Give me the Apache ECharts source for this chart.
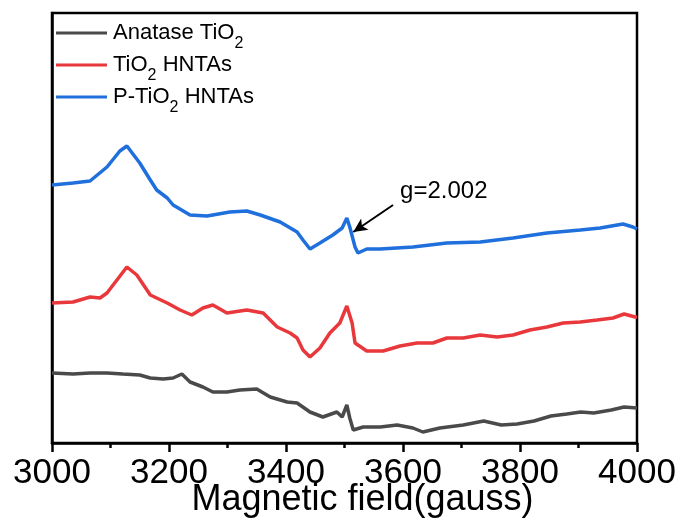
<!DOCTYPE html>
<html>
<head>
<meta charset="utf-8">
<script src="https://cdn.jsdelivr.net/npm/echarts@6/dist/echarts.min.js"></script>
<style>html,body{margin:0;padding:0;background:#fff;}#c{width:684px;height:527px;}</style>
</head>
<body>
<div id="c"></div>
<script>
// Magnetic field (gauss) and EPR intensity (a.u.)
const anataseField = [3000,3036,3065,3094,3121,3150,3168,3190,3207,3222,3236,3258,3275,3299,3321,3350,3373,3402,3419,3441,3463,3487,3496,3504,3509,3515,3532,3561,3590,3617,3634,3663,3703,3738,3768,3795,3824,3853,3880,3904,3926,3956,3978,4000];
const anataseValue = [70,69,70,70,69,68,65,64,65,69,61,56,51,51,53,54,46,41,40,31,26,31,26,38,25,13,16,16,18,15,11,15,18,22,18,19,22,27,29,31,30,33,36,35];

const hntaField = [3000,3036,3065,3082,3094,3111,3128,3145,3168,3197,3219,3239,3258,3275,3299,3333,3361,3385,3407,3419,3429,3441,3458,3475,3492,3504,3513,3518,3538,3566,3595,3624,3651,3675,3703,3732,3761,3788,3817,3846,3874,3903,3932,3959,3978,3997,4000];
const hntaValue = [140,141,146,145,150,163,176,168,148,140,133,128,135,138,130,133,130,116,110,105,93,86,95,110,120,137,120,100,92,92,97,100,100,105,105,108,106,108,113,116,120,121,123,125,129,126,126];

const pHntaField = [3000,3036,3065,3094,3116,3128,3150,3168,3179,3197,3207,3236,3265,3304,3333,3356,3390,3419,3429,3441,3458,3480,3496,3504,3509,3518,3523,3538,3561,3617,3675,3732,3788,3846,3903,3937,3976,3993,4000];
const pHntaValue = [258,260,262,276,292,297,280,263,253,245,238,228,227,231,232,228,221,211,203,194,200,208,215,225,216,196,190,194,194,196,200,201,205,210,213,215,219,216,214];

const seriesNames = ['Anatase TiO2', 'TiO2 HNTAs', 'P-TiO2 HNTAs'];
const xTicks = [3000, 3200, 3400, 3600, 3800, 4000];
const annotationText = 'g=2.002';
const annotationArrowFrom = [3583, 238];
const annotationArrowTo = [3515, 211];
const annotationTextAt = [3595, 252];

const pair = (xs, ys) => xs.map((x, i) => [x, ys[i]]);
const FONT = '"Liberation Sans", Arial, sans-serif';

const legendRich = {
  a: {fontSize: 22, lineHeight: 26, color: '#000', fontFamily: FONT, verticalAlign: 'middle'},
  s: {fontSize: 16, lineHeight: 16, color: '#000', fontFamily: FONT, padding: [16, 0, 0, 0], verticalAlign: 'top'}
};
const legendLabel = {
  'Anatase TiO2': '{a|Anatase TiO}{s|2}',
  'TiO2 HNTAs': '{a|TiO}{s|2}{a| HNTAs}',
  'P-TiO2 HNTAs': '{a|P-TiO}{s|2}{a| HNTAs}'
};

const chart = echarts.init(document.getElementById('c'), null, {renderer: 'canvas'});
chart.setOption({
  animation: false,
  backgroundColor: '#fff',
  grid: {left: 52, right: 47, top: 13, bottom: 84, show: true, borderColor: '#000', borderWidth: 2.5,
    backgroundColor: 'transparent', containLabel: false, outerBoundsMode: 'none'},
  legend: {
    orient: 'vertical', left: 51, top: 15, itemWidth: 51, itemHeight: 3, itemGap: 0,
    icon: 'rect',
    data: seriesNames,
    formatter: n => legendLabel[n],
    textStyle: {rich: legendRich, padding: [0, 0, 0, 1]}
  },
  xAxis: {
    type: 'value', min: 3000, max: 4000, interval: 200,
    axisLine: {show: true, lineStyle: {color: '#000', width: 2.5}},
    axisTick: {show: true, inside: false, length: 9, lineStyle: {color: '#000', width: 2.5}},
    minorTick: {show: true, splitNumber: 2, length: 5, lineStyle: {color: '#000', width: 2.5}},
    splitLine: {show: false},
    axisLabel: {fontSize: 35, color: '#000', fontFamily: FONT, margin: 13,
      formatter: v => xTicks.includes(v) ? String(v) : ''},
    name: 'Magnetic field(gauss)', nameLocation: 'middle', nameGap: 39, nameMoveOverlap: false,
    nameTextStyle: {fontSize: 36, color: '#000', fontFamily: FONT, padding: [0, 0, 0, 36]}
  },
  yAxis: {
    type: 'value', min: 0, max: 430,
    axisLine: {show: true, lineStyle: {color: '#000', width: 2.5}},
    axisTick: {show: false}, axisLabel: {show: false}, splitLine: {show: false}
  },
  series: [
    {name: seriesNames[0], type: 'line', data: pair(anataseField, anataseValue), symbol: 'none',
     lineStyle: {color: '#4a4a4a', width: 3.5}, itemStyle: {color: '#4a4a4a'}},
    {name: seriesNames[1], type: 'line', data: pair(hntaField, hntaValue), symbol: 'none',
     lineStyle: {color: '#e8383b', width: 3.5}, itemStyle: {color: '#e8383b'}},
    {name: seriesNames[2], type: 'line', data: pair(pHntaField, pHntaValue), symbol: 'none',
     lineStyle: {color: '#1f6fdc', width: 3.5}, itemStyle: {color: '#1f6fdc'},
     markLine: {
       silent: true, symbol: ['none', 'arrow'], symbolSize: [10, 14],
       lineStyle: {color: '#000', width: 2, type: 'solid'}, label: {show: false},
       data: [[{coord: annotationArrowFrom}, {coord: annotationArrowTo}]]
     },
     markPoint: {
       silent: true, symbol: 'circle', symbolSize: 0,
       label: {show: true, position: 'right', distance: 0, formatter: annotationText, fontSize: 24, color: '#000', fontFamily: FONT},
       data: [{coord: annotationTextAt}]
     }}
  ]
});
</script>
</body>
</html>
